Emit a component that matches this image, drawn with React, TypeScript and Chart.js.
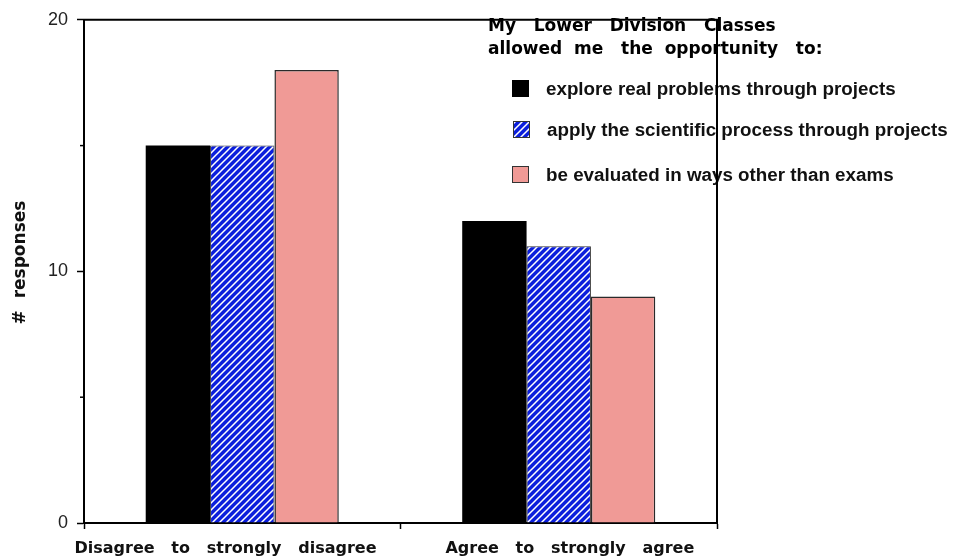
import React, { useEffect, useRef } from 'react';
import { Chart, registerables } from 'chart.js';

Chart.register(...registerables);

const categories = ['Disagree   to   strongly   disagree      ', '    Agree   to   strongly   agree'];
const seriesNames = [
  'explore real problems through projects',
  'apply the scientific process through projects',
  'be evaluated in ways other than exams',
];
const exploreValues = [15, 12];
const applyValues = [15, 11];
const evaluatedValues = [18, 9];
const yMajorTicks = [0, 10, 20];
const yMinorTicks = [5, 15];
const legendTitleLines = ['My   Lower   Division   Classes', 'allowed  me   the  opportunity   to:'];
const yAxisTitle = '   #  responses';

function makeStripePattern(): CanvasPattern | string {
  const s = 7;
  const c = document.createElement('canvas');
  c.width = s;
  c.height = s;
  const g = c.getContext('2d');
  if (!g) return '#0b1edc';
  g.fillStyle = '#0b1edc';
  g.fillRect(0, 0, s, s);
  g.strokeStyle = '#ffffff';
  g.lineWidth = 1.5;
  g.beginPath();
  g.moveTo(-1, s + 1);
  g.lineTo(s + 1, -1);
  g.moveTo(-s - 1, s + 1);
  g.lineTo(1, -1);
  g.moveTo(-1, 2 * s + 1);
  g.lineTo(2 * s + 1, -1);
  g.stroke();
  const p = g.createPattern(c, 'repeat');
  return p || '#0b1edc';
}

export default function App() {
  const ref = useRef<HTMLCanvasElement | null>(null);

  useEffect(() => {
    if (!ref.current) return;
    const stripe = makeStripePattern();
    const colors: any[] = ['#000000', stripe, '#f09a96'];
    const borders = ['#000000', '#333333', '#2a2a2a'];
    const borderWidths = [0, 1, 1.5];

    const framePlugin = {
      id: 'framePlugin',
      beforeDraw(chart: any) {
        const ctx = chart.ctx;
        ctx.save();
        ctx.fillStyle = '#000';
        ctx.textBaseline = 'alphabetic';
        ctx.textAlign = 'left';
        ctx.font = 'bold 17px "DejaVu Sans"';
        ctx.fillText(legendTitleLines[0], 488, 31);
        ctx.fillText(legendTitleLines[1], 488, 54);
        const boxes = [
          [512, 80, 546, 95],
          [513, 121, 547, 136],
          [512, 166, 546, 181],
        ];
        ctx.font = 'bold 18.8px "Liberation Sans"';
        boxes.forEach((b, i) => {
          ctx.fillStyle = colors[i];
          ctx.fillRect(b[0], b[1], 17, 17);
          ctx.strokeStyle = i === 0 ? '#000' : '#333';
          ctx.lineWidth = 1;
          ctx.strokeRect(b[0] + 0.5, b[1] + 0.5, 16, 16);
          ctx.fillStyle = '#111';
          ctx.fillText(seriesNames[i], b[2], b[3]);
        });
        ctx.restore();
      },
      afterDraw(chart: any) {
        const { ctx, chartArea } = chart;
        const y = chart.scales.y;
        ctx.save();
        ctx.strokeStyle = '#000';
        ctx.lineWidth = 2;
        ctx.beginPath();
        ctx.moveTo(chartArea.left - 1, chartArea.top);
        ctx.lineTo(chartArea.right, chartArea.top);
        ctx.lineTo(chartArea.right, chartArea.bottom);
        ctx.stroke();
        ctx.lineWidth = 1.5;
        yMinorTicks.forEach((v) => {
          const py = y.getPixelForValue(v);
          ctx.beginPath();
          ctx.moveTo(chartArea.left - 4, py);
          ctx.lineTo(chartArea.left, py);
          ctx.stroke();
        });
        ctx.restore();
      },
    };

    const chart = new Chart(ref.current, {
      type: 'bar',
      data: {
        labels: categories,
        datasets: [
          { label: seriesNames[0], data: exploreValues, backgroundColor: colors[0], borderColor: borders[0], borderWidth: borderWidths[0] },
          { label: seriesNames[1], data: applyValues, backgroundColor: colors[1], borderColor: borders[1], borderWidth: borderWidths[1] },
          { label: seriesNames[2], data: evaluatedValues, backgroundColor: colors[2], borderColor: borders[2], borderWidth: borderWidths[2] },
        ],
      },
      options: {
        animation: false,
        responsive: true,
        maintainAspectRatio: false,
        layout: { padding: { left: 0, top: 18, right: 237, bottom: 0 } },
        datasets: { bar: { categoryPercentage: 0.61, barPercentage: 1.0 } },
        plugins: {
          legend: { display: false },
          tooltip: { enabled: false },
        },
        scales: {
          x: {
            afterFit(scale: any) {
              scale.height = 34;
            },
            grid: {
              display: true,
              drawOnChartArea: false,
              offset: true,
              tickLength: 6,
              tickColor: '#000',
              tickWidth: 1.5,
            },
            border: { display: true, color: '#000', width: 2 },
            ticks: {
              color: '#111',
              padding: 10,
              font: { family: '"DejaVu Sans"', size: 16, weight: 'bold' },
              maxRotation: 0,
              autoSkip: false,
            },
          },
          y: {
            min: 0,
            max: 20,
            afterFit(scale: any) {
              scale.width = 84;
            },
            afterBuildTicks(scale: any) {
              scale.ticks = yMajorTicks.map((v) => ({ value: v }));
            },
            grid: {
              display: true,
              drawOnChartArea: false,
              tickLength: 7,
              tickColor: '#000',
              tickWidth: 1.5,
            },
            border: { display: true, color: '#000', width: 2 },
            ticks: {
              color: '#222',
              padding: 9,
              font: { family: '"Liberation Sans"', size: 18 },
              callback: (v: any) => String(v),
            },
            title: {
              display: true,
              text: yAxisTitle,
              color: '#111',
              padding: { top: 10, bottom: 0 },
              font: { family: '"DejaVu Sans"', size: 17, weight: 'bold' },
            },
          },
        },
      },
      plugins: [framePlugin],
    } as any);

    return () => chart.destroy();
  }, []);

  return (
    <div style={{ position: 'fixed', left: 0, top: 0, width: 954, height: 557, background: '#fff' }}>
      <canvas ref={ref} />
    </div>
  );
}
